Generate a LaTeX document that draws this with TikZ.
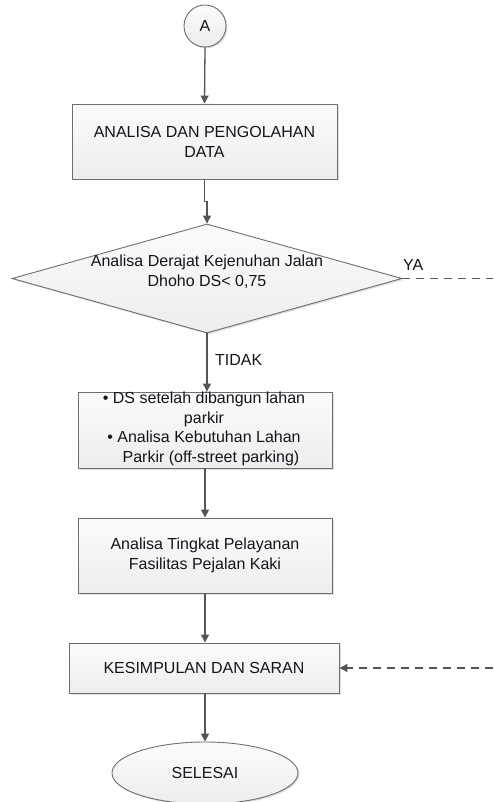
\documentclass[tikz,border=0pt]{standalone}
\usepackage{fontspec}
\setmainfont{Liberation Sans}
\usetikzlibrary{arrows.meta,shapes.geometric,shadows,calc}
\definecolor{edge}{HTML}{6E6E6E}
\definecolor{conn}{HTML}{555555}
\definecolor{txt}{HTML}{14141E}
\tikzset{
  shp/.style={draw=edge, line width=0.9pt, top color=white!70!gray!10, bottom color=gray!14,
     drop shadow={opacity=0.25, shadow xshift=1.5pt, shadow yshift=-1.5pt},
     text=txt, font=\fontsize{16}{20}\selectfont, align=center, inner sep=0pt},
  boxnode/.style={shp, rectangle},
  conn/.style={draw=conn, line width=1.3pt, -{Triangle[width=8pt,length=8pt]}},
  dconn/.style={draw=conn, line width=1.1pt, dash pattern=on 8pt off 6pt},
  lbl/.style={text=txt, font=\fontsize{16}{20}\selectfont, inner sep=0pt}
}
\begin{document}
\begin{tikzpicture}[x=1pt,y=-1pt]
\useasboundingbox (0,0) rectangle (493,802);
\node[shp, circle, minimum size=42pt] (a) at (205,26) {A};
\node[boxnode, minimum width=265pt, minimum height=75pt] (b1) at (204.5,141.5) {ANALISA DAN PENGOLAHAN\\DATA};
\node[shp, diamond, aspect=3.58, minimum width=390pt, minimum height=109pt] (d) at (207,278.5) {};
\node[lbl, align=center] (dt) at (207,272) {Analisa Derajat Kejenuhan Jalan\\Dhoho DS< 0,75};
\node[lbl, anchor=base west] (ya) at (403,270) {YA};
\coordinate (yaend) at (493,278.5);
\node[lbl, anchor=base west] (tidak) at (215,365) {TIDAK};
\node[boxnode, minimum width=254pt, minimum height=76pt] (b3) at (205,430) {};
\node[lbl, align=center, font=\fontsize{16}{19.5}\selectfont] (b3t) at (204,429) {\textbullet\ DS setelah dibangun lahan\\parkir\\\textbullet\ Analisa Kebutuhan Lahan\\\hspace*{14pt}Parkir (off-street parking)};
\node[boxnode, minimum width=254pt, minimum height=75pt] (b4) at (205,555.5) {Analisa Tingkat Pelayanan\\Fasilitas Pejalan Kaki};
\node[boxnode, minimum width=270pt, minimum height=50pt] (b5) at (204,668) {KESIMPULAN DAN SARAN};
\coordinate (retstart) at (493,668);
\node[shp, ellipse, minimum width=186pt, minimum height=62pt] (e) at (205,773) {SELESAI};
\draw[conn] (a.south) -- (b1.north);
\draw[conn] (b1.south) -- ++(0,22) -| (d.north);
\draw[dconn] (d.east) -- (yaend);
\draw[conn] (d.south) -- (d.south |- b3.north);
\draw[conn] (b3.south) -- (b4.north);
\draw[conn] (b4.south) -- (b5.north -| b4.south);
\draw[dconn, -{Triangle[width=8pt,length=8pt]}] (retstart) -- (b5.east);
\draw[conn] (b5.south -| e.north) -- (e.north);
\end{tikzpicture}
\end{document}
